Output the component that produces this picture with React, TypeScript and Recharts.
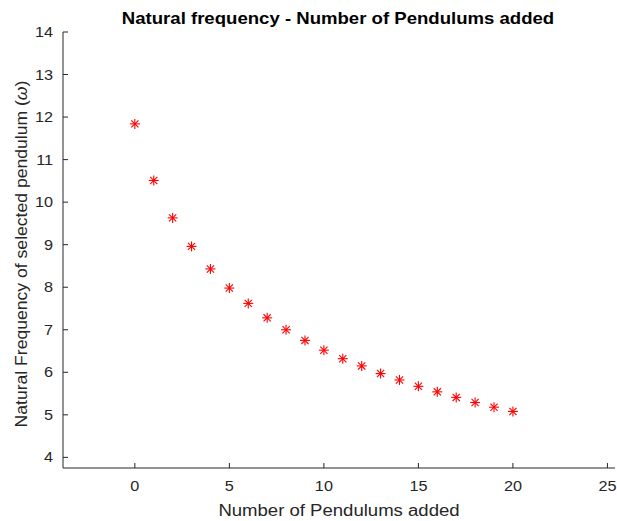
import { ScatterChart, Scatter, XAxis, YAxis } from "recharts";

// Natural frequency of the selected pendulum vs number of pendulums added
const pendulumsAdded = [0, 1, 2, 3, 4, 5, 6, 7, 8, 9, 10, 11, 12, 13, 14, 15, 16, 17, 18, 19, 20];
const naturalFreq = [
  11.84, 10.51, 9.63, 8.96, 8.43, 7.98, 7.62, 7.28, 7.0, 6.75, 6.52,
  6.32, 6.15, 5.97, 5.82, 5.67, 5.54, 5.41, 5.29, 5.18, 5.08,
];
const xTicks = [0, 5, 10, 15, 20, 25];
const yTicks = [4, 5, 6, 7, 8, 9, 10, 11, 12, 13, 14];

const data = pendulumsAdded.map((n, i) => ({ n, w: naturalFreq[i] }));

const FONT = "'Liberation Sans', Arial, Helvetica, sans-serif";
const AXIS = "#262626";
const TICK_MARGIN_X = 13;
const TICK_MARGIN_Y = 10;
// the reference glyphs run a bit wider than Arial
const WIDEN = 1.16;

// MATLAB-style '*' marker
function Asterisk(props: any) {
  const { cx, cy } = props;
  if (cx == null || cy == null) return null;
  const r = 5;
  const d = r * 0.72;
  return (
    <g stroke="#ff0000" strokeWidth={1.1}>
      <line x1={cx - r} y1={cy} x2={cx + r} y2={cy} />
      <line x1={cx} y1={cy - r} x2={cx} y2={cy + r} />
      <line x1={cx - d} y1={cy - d} x2={cx + d} y2={cy + d} />
      <line x1={cx - d} y1={cy + d} x2={cx + d} y2={cy - d} />
    </g>
  );
}

// tick labels plus inward tick marks
function XTick(props: any) {
  const { x, y, payload } = props;
  const axisY = y - TICK_MARGIN_X;
  return (
    <g>
      <line x1={x} y1={axisY} x2={x} y2={axisY - 5} stroke={AXIS} />
      <text
        transform={`translate(${x}, ${y}) scale(${WIDEN}, 1)`}
        dy="0.71em"
        textAnchor="middle"
        fill={AXIS}
        fontSize={14}
        fontFamily={FONT}
      >
        {payload.value}
      </text>
    </g>
  );
}

function YTick(props: any) {
  const { x, y, payload } = props;
  const axisX = x + TICK_MARGIN_Y;
  return (
    <g>
      <line x1={axisX} y1={y} x2={axisX + 5} y2={y} stroke={AXIS} />
      <text
        transform={`translate(${x}, ${y}) scale(${WIDEN}, 1)`}
        dy="0.355em"
        textAnchor="end"
        fill={AXIS}
        fontSize={14}
        fontFamily={FONT}
      >
        {payload.value}
      </text>
    </g>
  );
}

function YLabel() {
  return (
    <text
      transform={`translate(27, 254) rotate(-90) scale(1.1, 1)`}
      textAnchor="middle"
      fill={AXIS}
      fontSize={16}
      fontFamily={FONT}
    >
      Natural Frequency of selected pendulum (<tspan fontStyle="italic">ω</tspan>)
    </text>
  );
}

function XLabel() {
  return (
    <text
      transform={`translate(339, 516) scale(${WIDEN}, 1)`}
      textAnchor="middle"
      fill={AXIS}
      fontSize={16}
      fontFamily={FONT}
    >
      Number of Pendulums added
    </text>
  );
}

export default function App() {
  return (
    <div style={{ position: "absolute", left: 0, top: 0, width: 617, height: 521, background: "#fff" }}>
      <svg width={617} height={30} style={{ position: "absolute", left: 0, top: 0 }}>
        <text
          transform={`translate(338, 24) scale(1.14, 1)`}
          textAnchor="middle"
          fill="#000"
          fontSize={16.3}
          fontWeight="bold"
          fontFamily={FONT}
        >
          Natural frequency - Number of Pendulums added
        </text>
      </svg>
      <ScatterChart width={617} height={521} margin={{ top: 32, right: 2, left: 0, bottom: 0 }}>
        <XAxis
          type="number"
          dataKey="n"
          domain={[-3.8, 25.4]}
          ticks={xTicks}
          allowDataOverflow
          height={53}
          stroke={AXIS}
          tickLine={false}
          tickSize={0}
          tickMargin={TICK_MARGIN_X}
          tick={<XTick />}
          label={<XLabel />}
        />
        <YAxis
          type="number"
          dataKey="w"
          domain={[3.75, 14]}
          ticks={yTicks}
          allowDataOverflow
          width={63}
          stroke={AXIS}
          tickLine={false}
          tickSize={0}
          tickMargin={TICK_MARGIN_Y}
          tick={<YTick />}
          label={<YLabel />}
        />
        <Scatter data={data} shape={<Asterisk />} isAnimationActive={false} />
      </ScatterChart>
    </div>
  );
}
